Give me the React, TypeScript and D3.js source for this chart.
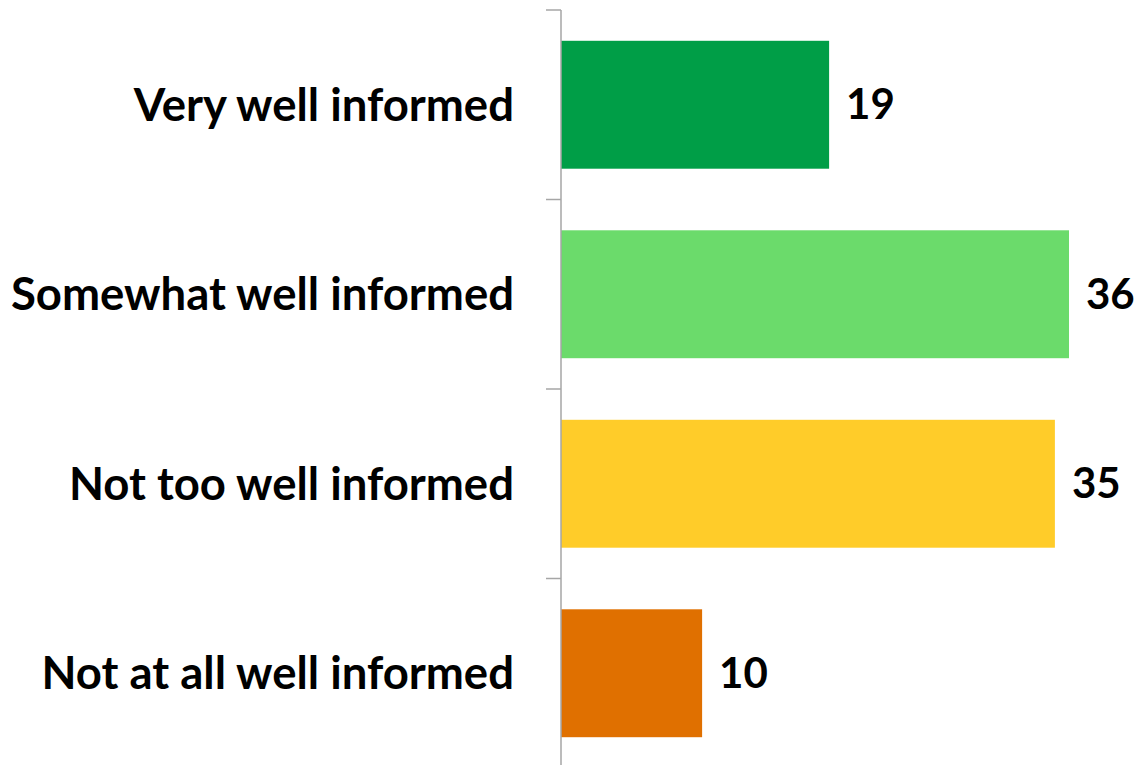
import { useEffect, useRef } from "react";
import * as d3 from "d3";

const categories = [
  "Very well informed",
  "Somewhat well informed",
  "Not too well informed",
  "Not at all well informed",
];
const values = [19, 36, 35, 10];
const colors = ["#009e47", "#6bdb6b", "#ffcc29", "#e07000"];

export default function App() {
  const svgRef = useRef<SVGSVGElement>(null);

  useEffect(() => {
    document.body.style.margin = "0";
    if (!svgRef.current) return;
    const width = 1136;
    const height = 765;
    const axisX = 561;

    const svg = d3.select(svgRef.current);
    svg.selectAll("*").remove();

    const x = d3.scaleLinear().domain([0, 36]).range([axisX, 1069]);
    const y = d3
      .scaleBand<string>()
      .domain(categories)
      .range([10, 768])
      .paddingInner(0.325)
      .paddingOuter(0.1625);

    // bars
    svg
      .selectAll("rect")
      .data(values)
      .enter()
      .append("rect")
      .attr("x", x(0))
      .attr("y", (_, i) => y(categories[i])!)
      .attr("width", (d) => x(d) - x(0))
      .attr("height", y.bandwidth())
      .attr("fill", (_, i) => colors[i]);

    // axis line + ticks between categories
    const g = svg.append("g").attr("stroke", "#a6a6a6").attr("stroke-width", 1.5);
    g.append("line")
      .attr("x1", axisX)
      .attr("x2", axisX)
      .attr("y1", 10)
      .attr("y2", height);
    const step = y.step();
    d3.range(categories.length + 1).forEach((i) => {
      const ty = 10 + i * step;
      g.append("line")
        .attr("x1", axisX - 15)
        .attr("x2", axisX)
        .attr("y1", ty)
        .attr("y2", ty);
    });

    // category labels
    svg
      .selectAll("text.cat")
      .data(categories)
      .enter()
      .append("text")
      .attr("class", "cat")
      .attr("x", 514)
      .attr("y", (d) => y(d)! + y.bandwidth() / 2)
      .attr("dy", "0.35em")
      .attr("text-anchor", "end")
      .attr("font-family", "Lato, 'Open Sans', sans-serif")
      .attr("font-weight", "bold")
      .attr("font-size", "45.5px")
      .attr("fill", "#000")
      .text((d) => d);

    // value labels
    svg
      .selectAll("text.val")
      .data(values)
      .enter()
      .append("text")
      .attr("class", "val")
      .attr("x", (d) => x(d) + 17)
      .attr("y", (_, i) => y(categories[i])! + y.bandwidth() / 2)
      .attr("dy", "0.35em")
      .attr("font-family", "Lato, 'Open Sans', sans-serif")
      .attr("font-weight", "bold")
      .attr("font-size", "42px")
      .attr("fill", "#000")
      .text((d) => d);

    svg.attr("width", width).attr("height", height);
  }, []);

  return (
    <svg
      ref={svgRef}
      width={1136}
      height={765}
      style={{ display: "block", background: "#fff" }}
    />
  );
}
